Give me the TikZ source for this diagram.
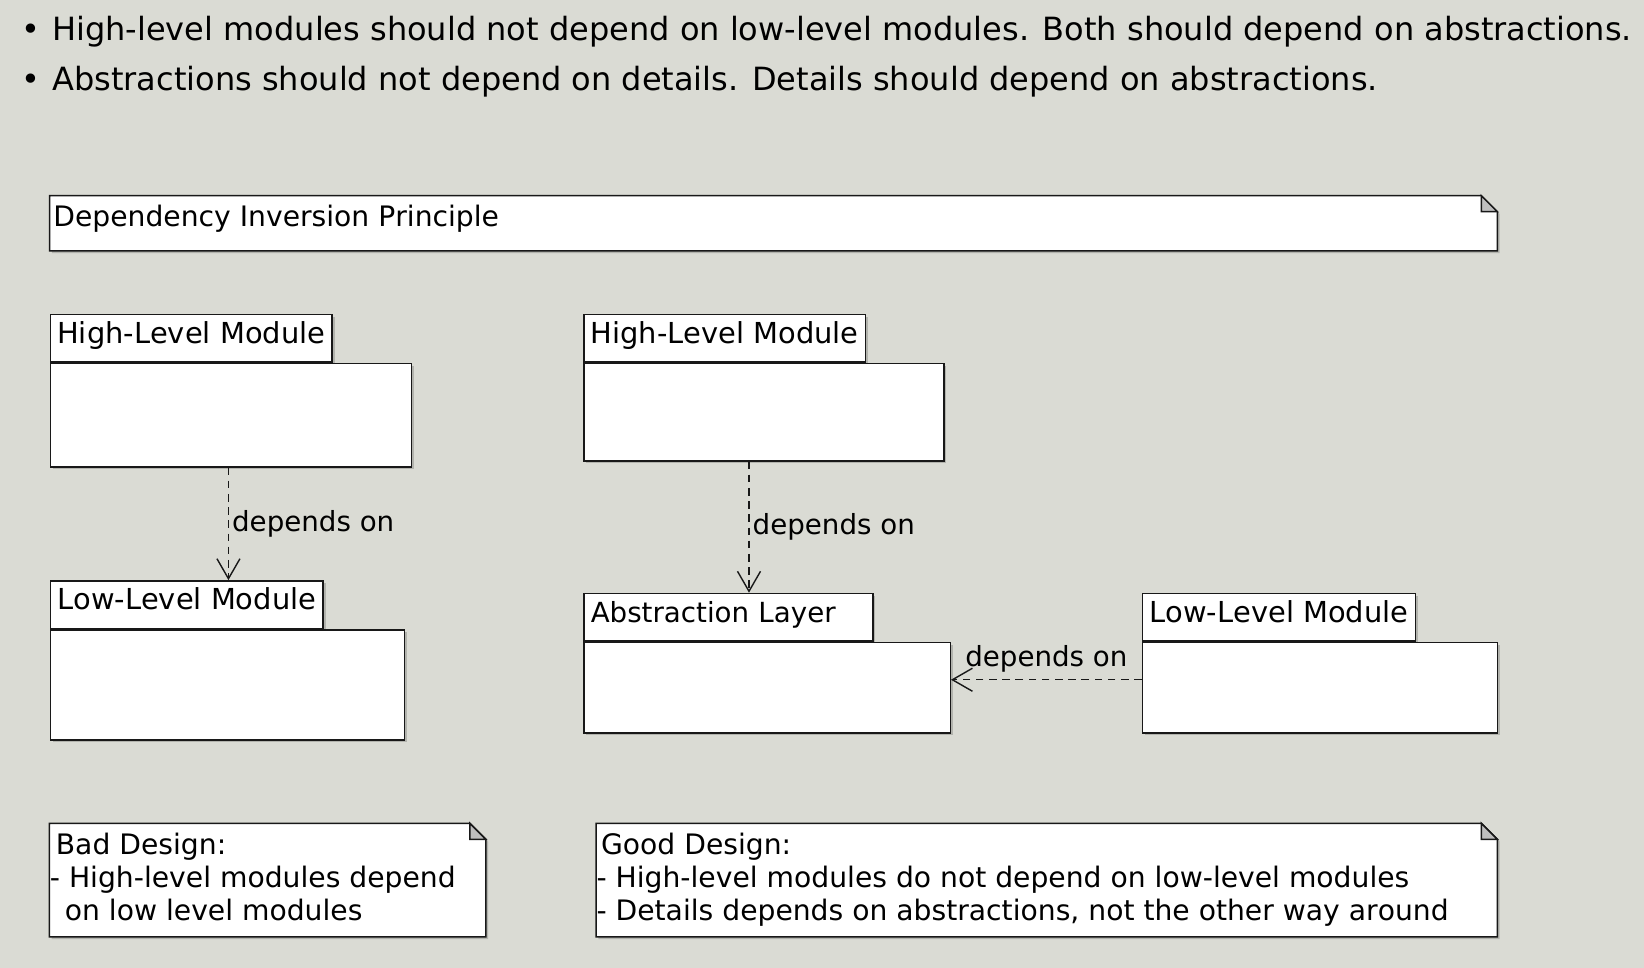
\documentclass[tikz,border=0pt]{standalone}
\usepackage{fontspec}
\setmainfont{DejaVu Sans}[Kerning=Off]
\newfontfamily\itemfamily{DejaVu Sans}
\usetikzlibrary{positioning, arrows.meta, shadows}

\definecolor{pagebg}{RGB}{218,219,212}
\definecolor{umlline}{RGB}{24,24,24}
\definecolor{foldgray}{RGB}{190,190,190}
\newcommand{\umlfont}{\fontsize{14.1}{16.5}\selectfont}
\newcommand{\tabfont}{\fontsize{14.45}{16.5}\selectfont}
\newcommand{\labelfont}{\fontsize{13.85}{16.5}\selectfont}
\newcommand{\itemfont}{\itemfamily\fontsize{16}{20}\selectfont}

\begin{document}
\begin{tikzpicture}[
  x=0.5pt, y=-0.5pt,
  umlshadow/.style={drop shadow={shadow xshift=1.2pt, shadow yshift=-1.2pt, opacity=0.18, fill=black}},
  pkgtab/.style={draw=umlline, fill=white, line width=0.75pt, anchor=south west, font=\tabfont,
    inner xsep=3.5pt, inner ysep=2pt, text height=12.3pt, text depth=7.45pt, umlshadow},
  pkgbody/.style={draw=umlline, fill=white, line width=0.75pt, inner sep=0pt, umlshadow},
  dependson/.style={draw=umlline, line width=0.7pt, dash pattern=on 3.8pt off 2.8pt,
    -{Straight Barb[length=10pt, width=11.5pt]}},
  deplabel/.style={font=\labelfont, inner sep=1.5pt},
  notebox/.style={anchor=north west, inner sep=0pt},
  notebody/.style={draw=umlline, fill=white, line width=0.75pt, umlshadow},
  notefold/.style={draw=umlline, fill=foldgray, line width=0.75pt},
  notetext/.style={anchor=base west, align=left, font=\umlfont, inner sep=0pt},
  item/.style={anchor=base west, font=\itemfont, inner sep=0pt}
]
\fill[pagebg] (0,0) rectangle (1644,968);
\useasboundingbox (0,0) rectangle (1644,968);

% principle
\node[item] (dip1) at (20.6,40.7) {•\hspace{6.2pt}High-level modules should not depend on low-level modules. Both should depend on abstractions.};
\node[item] (dip2) at (20.6,90.7) {•\hspace{6.2pt}Abstractions should not depend on details. Details should depend on abstractions.};

% notes
\node[notebox, minimum width=723.5pt, minimum height=27.15pt] (title) at (49.5,195.7) {};
\node[notebox, minimum width=217.85pt, minimum height=56.35pt] (bad) at (49.3,823.3) {};
\node[notebox, minimum width=450.25pt, minimum height=56.35pt] (good) at (596,823.3) {};
\foreach \n in {title,bad,good} {
  \filldraw[notebody] (\n.south west) -- (\n.north west) -- ([xshift=-8pt]\n.north east)
    -- ([yshift=-8pt]\n.north east) -- (\n.south east) -- cycle;
  \filldraw[notefold] ([xshift=-8pt]\n.north east) -- ([yshift=-8pt]\n.north east)
    -- ([shift={(-8pt,-8pt)}]\n.north east) -- cycle;
}
% base anchor = last line
\node[notetext] (titletext) at ([shift={(3.5,31.3)}]title.north west) {Dependency Inversion Principle};
\node[notetext] (badtext) at ([shift={(6.2,96.7)}]bad.north west)
  {Bad Design:\\\hspace*{-3pt}- High-level modules depend\\~on low level modules};
\node[notetext] (goodtext) at ([shift={(4.7,96.7)}]good.north west)
  {Good Design:\\\hspace*{-2.3pt}- High-level modules do not depend on low-level modules\\\hspace*{-2.3pt}- Details depends on abstractions, not the other way around};

% bad design
\node[pkgtab] (hl1tab) at (49.5,362.7) {High-Level Module};
\node[pkgbody, minimum width=180.5pt, minimum height=51.65pt, below right=0pt and 0pt of hl1tab.south west] (hl1) {};
\node[pkgtab] (ll1tab) at (49.5,629.1) {Low-Level Module};
\node[pkgbody, minimum width=177.1pt, minimum height=55.05pt, below right=0pt and 0pt of ll1tab.south west] (ll1) {};

% good design
\node[pkgtab] (hl2tab) at (583,362.7) {High-Level Module};
\node[pkgbody, minimum width=180.15pt, minimum height=48.65pt, below right=0pt and 0pt of hl2tab.south west] (hl2) {};
\node[pkgtab, font=\labelfont, text width=137.6pt, align=left] (abstab) at (583,641.7) {Abstraction Layer};
\node[pkgbody, minimum width=183.25pt, minimum height=45.3pt, below right=0pt and 0pt of abstab.south west] (abs) {};
\node[pkgtab] (ll2tab) at (1141.8,641.7) {Low-Level Module};
\node[pkgbody, minimum width=177.45pt, minimum height=45.3pt, below right=0pt and 0pt of ll2tab.south west] (ll2) {};

% dependencies
\coordinate (hl1out) at ([xshift=-1.15pt]hl1.south);
\coordinate (hl2out) at ([xshift=-7.45pt]hl2.south);
\draw[dependson] (hl1out) -- (hl1out |- ll1tab.north) node[deplabel, midway, right] (dep1) {depends on};
\draw[dependson] (hl2out) -- (hl2out |- abstab.north) node[deplabel, midway, right] (dep2) {depends on};
\draw[dependson] ([yshift=4pt]ll2.west) -- ([yshift=4pt]abs.east) node[deplabel, midway, above, inner ysep=3.3pt] (dep3) {depends on};
\end{tikzpicture}
\end{document}
